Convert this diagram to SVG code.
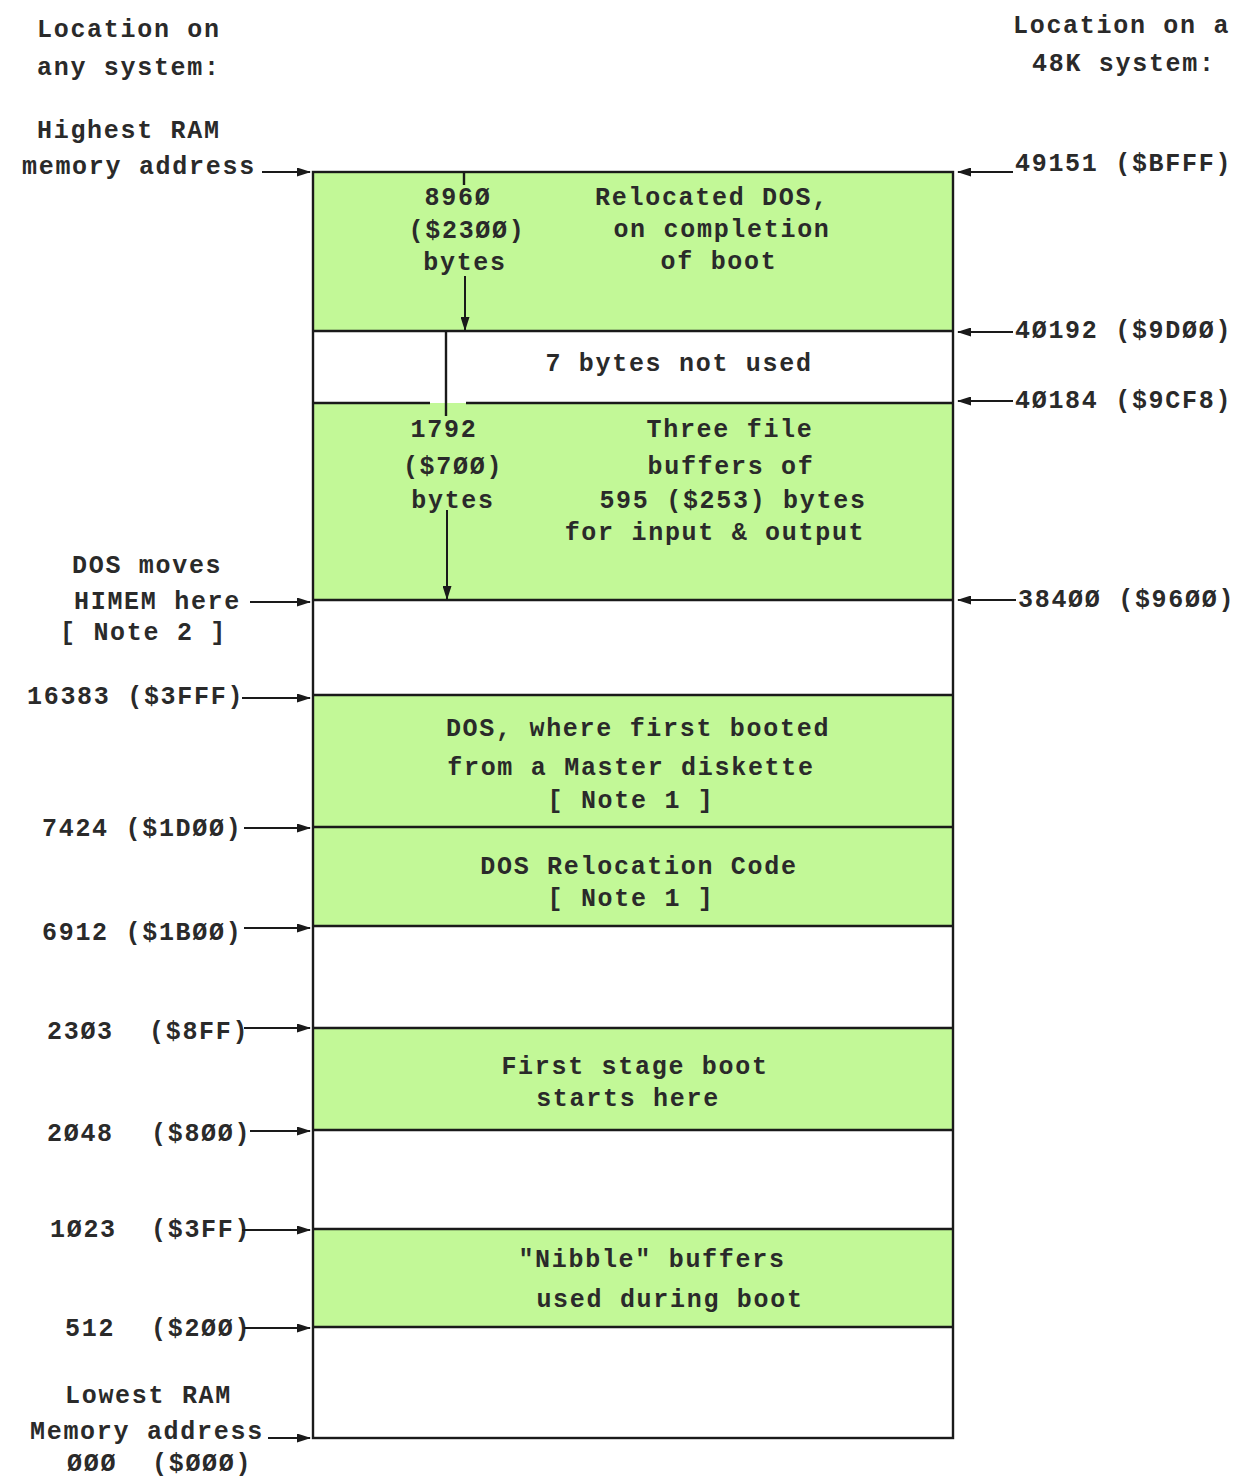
<svg xmlns="http://www.w3.org/2000/svg" width="1238" height="1479" viewBox="0 0 1238 1479">
<defs>
<marker id="ah" markerWidth="14" markerHeight="9" refX="13" refY="4.5" orient="auto" markerUnits="userSpaceOnUse">
<path d="M0,0 L14,4.5 L0,9 Z" fill="#1a1a1a"/>
</marker>
<style>
text{font-family:"Liberation Mono","DejaVu Sans Mono",monospace;font-size:25px;font-weight:bold;fill:#2a2a2a;letter-spacing:1.7px}
.m{text-anchor:middle}
.g{fill:#c2f897;stroke:none}
.w{fill:#ffffff;stroke:none}
.ln{stroke:#1a1a1a;stroke-width:2.4;fill:none}
.ar{stroke:#1a1a1a;stroke-width:2;fill:none;marker-end:url(#ah)}
</style>
</defs>
<rect width="1238" height="1479" fill="#ffffff"/>

<g id="headers">
<text x="37" y="37">Location on</text>
<text x="37" y="75">any system:</text>
<text x="1013" y="33">Location on a</text>
<text x="1032" y="71">48K system:</text>
</g>

<g id="memory-map">
<rect class="g" x="313" y="172" width="640" height="159"/>
<rect class="g" x="313" y="403" width="640" height="197"/>
<rect class="g" x="313" y="695" width="640" height="231"/>
<rect class="g" x="313" y="1028" width="640" height="102"/>
<rect class="g" x="313" y="1229" width="640" height="98"/>
<rect class="ln" x="313" y="172" width="640" height="1266"/>
<line class="ln" x1="313" y1="331" x2="953" y2="331"/>
<line class="ln" x1="313" y1="403" x2="430" y2="403"/>
<line class="ln" x1="466" y1="403" x2="953" y2="403"/>
<line class="ln" x1="313" y1="600" x2="953" y2="600"/>
<line class="ln" x1="313" y1="695" x2="953" y2="695"/>
<line class="ln" x1="313" y1="827" x2="953" y2="827"/>
<line class="ln" x1="313" y1="926" x2="953" y2="926"/>
<line class="ln" x1="313" y1="1028" x2="953" y2="1028"/>
<line class="ln" x1="313" y1="1130" x2="953" y2="1130"/>
<line class="ln" x1="313" y1="1229" x2="953" y2="1229"/>
<line class="ln" x1="313" y1="1327" x2="953" y2="1327"/>
</g>

<g id="node-relocated-dos">
<text class="m" x="458" y="205">896Ø</text>
<text class="m" x="467" y="238">($23ØØ)</text>
<text class="m" x="465" y="270">bytes</text>
<text class="m" x="712" y="205">Relocated DOS,</text>
<text class="m" x="722" y="237">on completion</text>
<text class="m" x="719" y="269">of boot</text>
</g>
<g id="node-unused">
<text class="m" x="679" y="371">7 bytes not used</text>
</g>
<g id="node-file-buffers">
<text class="m" x="444" y="437">1792</text>
<text class="m" x="453" y="474">($7ØØ)</text>
<text class="m" x="453" y="508">bytes</text>
<text class="m" x="730" y="437">Three file</text>
<text class="m" x="731" y="474">buffers of</text>
<text class="m" x="733" y="508">595 ($253) bytes</text>
<text class="m" x="715" y="540">for input &amp; output</text>
</g>
<g id="node-dos-first">
<text class="m" x="638" y="736">DOS, where first booted</text>
<text class="m" x="631" y="775">from a Master diskette</text>
<text class="m" x="631" y="808">[ Note 1 ]</text>
</g>
<g id="node-relocation-code">
<text class="m" x="639" y="874">DOS Relocation Code</text>
<text class="m" x="631" y="906">[ Note 1 ]</text>
</g>
<g id="node-first-stage">
<text class="m" x="635" y="1074">First stage boot</text>
<text class="m" x="628" y="1106">starts here</text>
</g>
<g id="node-nibble">
<text class="m" x="652" y="1267">"Nibble" buffers</text>
<text class="m" x="670" y="1307">used during boot</text>
</g>

<g id="left-labels">
<text x="37" y="138">Highest RAM</text>
<text x="22" y="174">memory address</text>
<text x="72" y="573">DOS moves</text>
<text x="74" y="609">HIMEM here</text>
<text x="60" y="640">[ Note 2 ]</text>
<text x="27" y="704">16383 ($3FFF)</text>
<text x="42" y="836">7424 ($1DØØ)</text>
<text x="42" y="940">6912 ($1BØØ)</text>
<text x="47" y="1039">23Ø3</text><text x="149" y="1039">($8FF)</text>
<text x="47" y="1141">2Ø48</text><text x="151" y="1141">($8ØØ)</text>
<text x="50" y="1237">1Ø23</text><text x="151" y="1237">($3FF)</text>
<text x="65" y="1336">512</text><text x="151" y="1336">($2ØØ)</text>
<text x="65" y="1403">Lowest RAM</text>
<text x="30" y="1439">Memory address</text>
<text x="67" y="1471">ØØØ</text><text x="152" y="1471">($ØØØ)</text>
</g>

<g id="right-labels">
<text x="1015" y="171">49151 ($BFFF)</text>
<text x="1015" y="338">4Ø192 ($9DØØ)</text>
<text x="1015" y="408">4Ø184 ($9CF8)</text>
<text x="1018" y="607">384ØØ ($96ØØ)</text>
</g>

<g id="connectors">
<line class="ar" x1="262" y1="172" x2="310" y2="172"/>
<line class="ar" x1="250" y1="602" x2="310" y2="602"/>
<line class="ar" x1="242" y1="698" x2="310" y2="698"/>
<line class="ar" x1="244" y1="828" x2="310" y2="828"/>
<line class="ar" x1="244" y1="928" x2="310" y2="928"/>
<line class="ar" x1="244" y1="1028" x2="310" y2="1028"/>
<line class="ar" x1="250" y1="1131" x2="310" y2="1131"/>
<line class="ar" x1="242" y1="1230" x2="310" y2="1230"/>
<line class="ar" x1="244" y1="1328" x2="310" y2="1328"/>
<line class="ar" x1="268" y1="1438" x2="310" y2="1438"/>
<line class="ar" x1="1013" y1="172" x2="958" y2="172"/>
<line class="ar" x1="1013" y1="332" x2="958" y2="332"/>
<line class="ar" x1="1013" y1="401" x2="958" y2="401"/>
<line class="ar" x1="1016" y1="600" x2="958" y2="600"/>
<line class="ln" x1="464" y1="172" x2="464" y2="185"/>
<line class="ar" x1="465" y1="276" x2="465" y2="330"/>
<line class="ln" x1="446" y1="331" x2="446" y2="416"/>
<line class="ar" x1="447" y1="510" x2="447" y2="599"/>
</g>
</svg>
